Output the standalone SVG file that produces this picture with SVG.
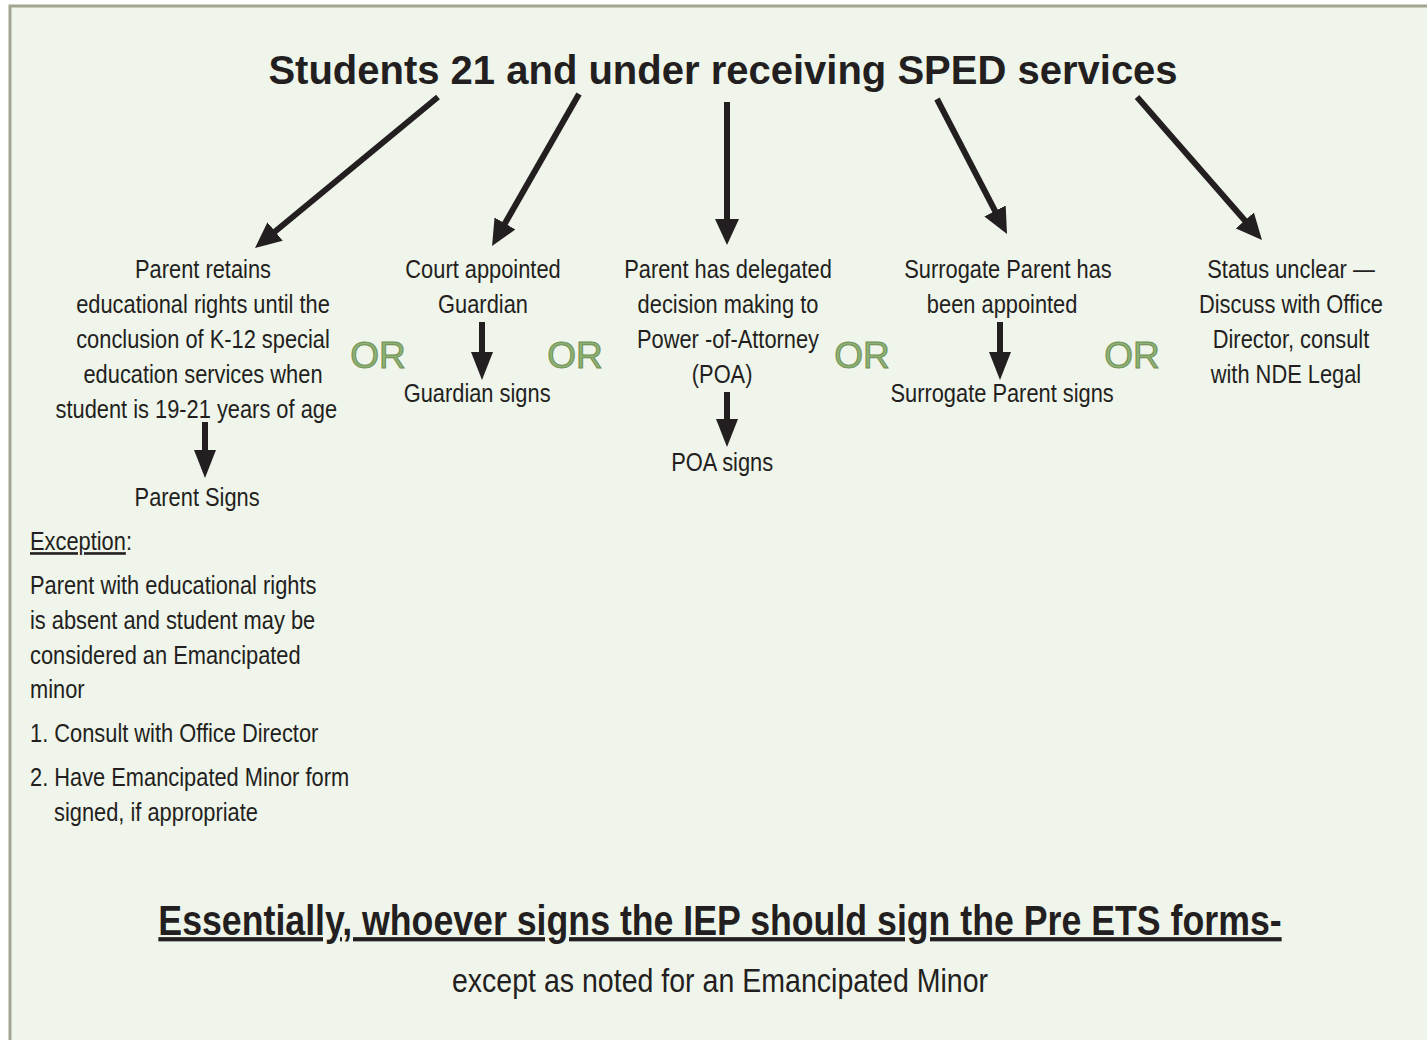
<svg xmlns="http://www.w3.org/2000/svg" width="1427" height="1040" viewBox="0 0 1427 1040">
<style>
.t{font-family:"Liberation Sans",Arial,sans-serif;font-size:26px;fill:#231f20;text-anchor:middle}
.l{text-anchor:start}
.title{font-family:"Liberation Sans",Arial,sans-serif;font-size:40px;font-weight:bold;fill:#231f20;text-anchor:middle}
.or{font-family:"Liberation Sans",Arial,sans-serif;font-size:37px;fill:#8db173;stroke:#6e8f55;stroke-width:1;text-anchor:middle}
.foot{font-family:"Liberation Sans",Arial,sans-serif;font-size:42px;font-weight:bold;fill:#231f20;text-anchor:middle;text-decoration:underline}
.sub{font-family:"Liberation Sans",Arial,sans-serif;font-size:34px;fill:#231f20;text-anchor:middle}
.a{stroke:#231f20;stroke-width:6;fill:none}
.a1{marker-end:url(#ah)}
.a2{marker-end:url(#ah2)}
</style>
<defs>
<marker id="ah" viewBox="0 0 26 24" refX="11" refY="12" markerWidth="26" markerHeight="24" markerUnits="userSpaceOnUse" orient="auto">
<path d="M0,0 L26,12 L0,24 z" fill="#231f20"/>
</marker>
<marker id="ah2" viewBox="0 0 28 22" refX="13" refY="11" markerWidth="28" markerHeight="22" markerUnits="userSpaceOnUse" orient="auto">
<path d="M0,0 L28,11 L0,22 z" fill="#231f20"/>
</marker>
</defs>
<rect x="0" y="0" width="1427" height="1040" fill="#ffffff"/>
<rect x="10" y="6" width="1440" height="1060" fill="#f0f5eb" stroke="#a3a590" stroke-width="3"/>

<g id="title"><text class="title" x="723" y="84">Students 21 and under receiving SPED services</text></g>

<g id="connectors">
<line class="a a1" x1="438" y1="97" x2="266.6" y2="238.5"/>
<line class="a a1" x1="579" y1="94" x2="499.5" y2="233"/>
<line class="a a1" x1="727" y1="102" x2="727" y2="230"/>
<line class="a a1" x1="937" y1="99" x2="1000.1" y2="220.7"/>
<line class="a a1" x1="1137" y1="97" x2="1252.1" y2="228.7"/>
<line class="a a2" x1="205" y1="422" x2="205" y2="463"/>
<line class="a a2" x1="482" y1="322" x2="482" y2="365"/>
<line class="a a2" x1="727" y1="392" x2="727" y2="432"/>
<line class="a a2" x1="1000" y1="322" x2="1000" y2="365"/>
</g>

<g id="node-parent" transform="translate(203 0) scale(0.84 1)">
<text class="t" x="0" y="278">Parent retains</text>
<text class="t" x="0" y="313">educational rights until the</text>
<text class="t" x="0" y="348">conclusion of K-12 special</text>
<text class="t" x="0" y="383">education services when</text>
<text class="t" x="-8" y="418">student is 19-21 years of age</text>
<text class="t" x="-7" y="506">Parent Signs</text>
</g>

<g id="node-guardian" transform="translate(483 0) scale(0.84 1)">
<text class="t" x="0" y="278">Court appointed</text>
<text class="t" x="0" y="313">Guardian</text>
<text class="t" x="-7" y="402">Guardian signs</text>
</g>

<g id="node-poa" transform="translate(728 0) scale(0.84 1)">
<text class="t" x="0" y="278">Parent has delegated</text>
<text class="t" x="0" y="313">decision making to</text>
<text class="t" x="0" y="348">Power -of-Attorney</text>
<text class="t" x="-7" y="383">(POA)</text>
<text class="t" x="-7" y="471">POA signs</text>
</g>

<g id="node-surrogate" transform="translate(1008 0) scale(0.84 1)">
<text class="t" x="0" y="278">Surrogate Parent has</text>
<text class="t" x="-7" y="313">been appointed</text>
<text class="t" x="-7" y="402">Surrogate Parent signs</text>
</g>

<g id="node-unclear" transform="translate(1291 0) scale(0.84 1)">
<text class="t" x="0" y="278">Status unclear —</text>
<text class="t" x="0" y="313">Discuss with Office</text>
<text class="t" x="0" y="348">Director, consult</text>
<text class="t" x="-6" y="383">with NDE Legal</text>
</g>

<g id="or-labels">
<text class="or" x="378" y="368">OR</text>
<text class="or" x="575" y="368">OR</text>
<text class="or" x="862" y="368">OR</text>
<text class="or" x="1132" y="368">OR</text>
</g>

<g id="exception" transform="translate(30 0) scale(0.84 1)">
<text class="t l" x="0" y="550"><tspan text-decoration="underline">Exception</tspan>:</text>
<text class="t l" x="0" y="594">Parent with educational rights</text>
<text class="t l" x="0" y="629">is absent and student may be</text>
<text class="t l" x="0" y="664">considered an Emancipated</text>
<text class="t l" x="0" y="698">minor</text>
<text class="t l" x="0" y="742">1. Consult with Office Director</text>
<text class="t l" x="0" y="786">2. Have Emancipated Minor form</text>
<text class="t l" x="28.6" y="821">signed, if appropriate</text>
</g>

<g id="footer">
<g transform="translate(720 0) scale(0.85 1)"><text class="foot" x="0" y="935">Essentially, whoever signs the IEP should sign the Pre ETS forms-</text></g>
<g transform="translate(720 0) scale(0.84 1)"><text class="sub" x="0" y="992">except as noted for an Emancipated Minor</text></g>
</g>
</svg>
